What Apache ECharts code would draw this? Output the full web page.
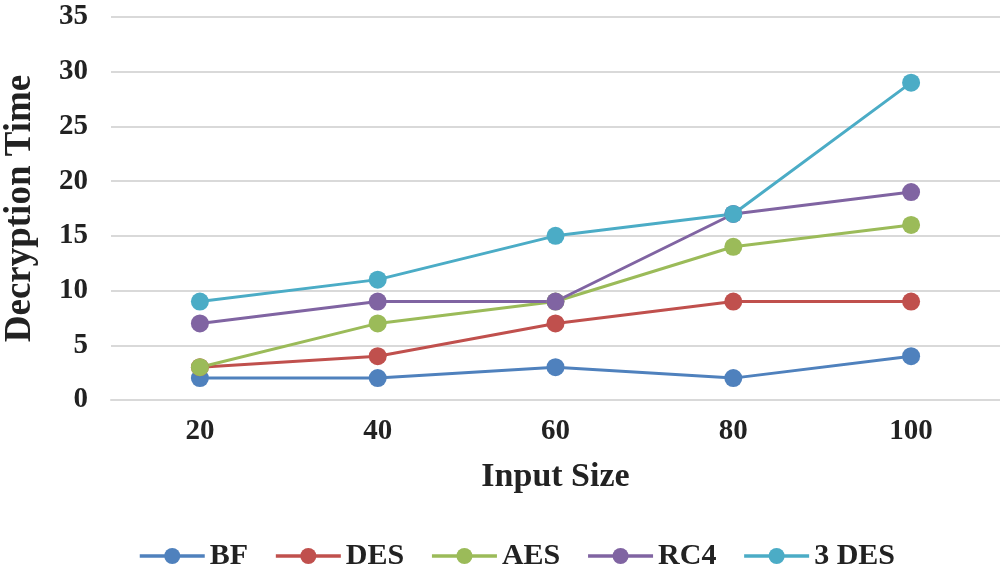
<!DOCTYPE html>
<html><head><meta charset="utf-8">
<script src="https://cdn.jsdelivr.net/npm/echarts@6/dist/echarts.min.js"></script>
<style>html,body{margin:0;padding:0;background:#fff}#c{width:1000px;height:570px}</style>
</head><body><div id="c"></div>
<script>
const categories = ['20','40','60','80','100'];
const seriesNames = ['BF','DES','AES','RC4','3 DES'];
const bf = [2,2,3,2,4];
const des = [3,4,7,9,9];
const aes = [3,7,9,14,16];
const rc4 = [7,9,9,17,19];
const des3 = [9,11,15,17,29];
const colors = ['#4F81BD','#C0504D','#9BBB59','#8064A2','#4BACC6'];
const values = [bf,des,aes,rc4,des3];
const font = 'Liberation Serif';
const chart = echarts.init(document.getElementById('c'));
chart.setOption({
  animation:false,
  color:colors,
  grid:{left:111,right:0,top:17,bottom:170,containLabel:false,outerBoundsMode:'none'},
  xAxis:{type:'category',data:categories,boundaryGap:true,
    name:'Input Size',nameLocation:'middle',nameGap:60,
    nameTextStyle:{fontFamily:font,fontWeight:'bold',fontSize:34,color:'#222'},
    axisLine:{show:true,lineStyle:{color:'#d9d9d9',width:2}},axisTick:{show:false},
    axisLabel:{fontFamily:font,fontWeight:'bold',fontSize:29,color:'#222',margin:17}},
  yAxis:{type:'value',min:0,max:35,interval:5,
    name:'Decryption Time',nameLocation:'middle',nameGap:72,
    nameTextStyle:{fontFamily:font,fontWeight:'bold',fontSize:37,color:'#222'},
    axisLine:{show:false},axisTick:{show:false},
    splitLine:{lineStyle:{color:'#d9d9d9',width:2}},
    axisLabel:{fontFamily:font,fontWeight:'bold',fontSize:29,color:'#222',margin:23}},
  legend:{top:536,left:133,itemWidth:65,itemHeight:20,itemGap:26,
    lineStyle:{width:3.5},
    textStyle:{fontFamily:font,fontWeight:'bold',fontSize:30,color:'#222'},
    data:seriesNames},
  series:seriesNames.map((n,i)=>({name:n,type:'line',data:values[i],
    symbol:'circle',symbolSize:18,
    lineStyle:{width:3,color:colors[i]},itemStyle:{color:colors[i]}}))
});
</script></body></html>
